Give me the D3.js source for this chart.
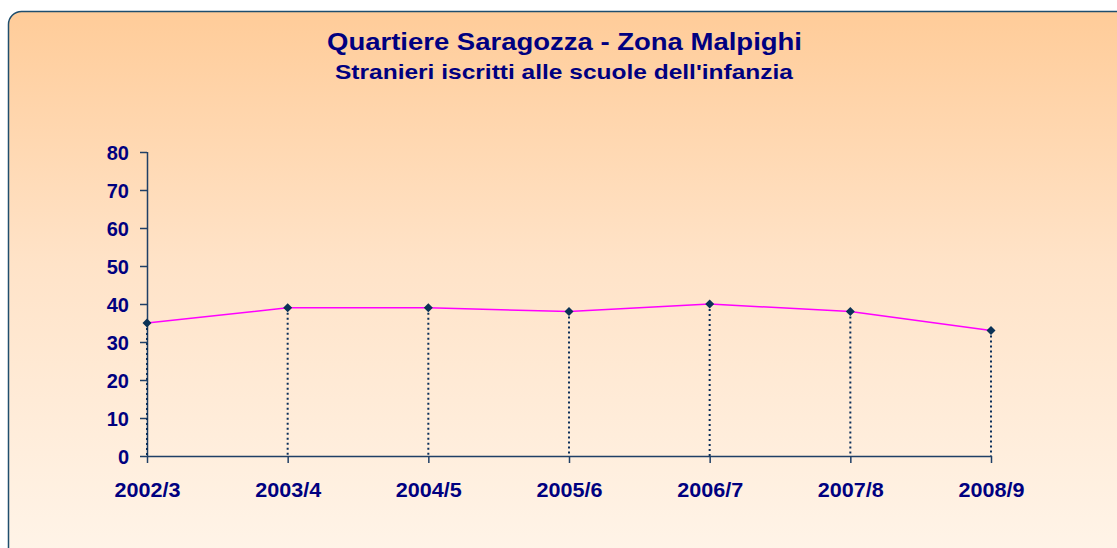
<!DOCTYPE html>
<html><head><meta charset="utf-8">
<script src="https://cdn.jsdelivr.net/npm/d3@7"></script>
<style>html,body{margin:0;padding:0;background:#fff;overflow:hidden}</style>
</head><body>
<svg id="c" width="1117" height="548"></svg>
<script>
const categories = ["2002/3","2003/4","2004/5","2005/6","2006/7","2007/8","2008/9"];
const values = [35, 39, 39, 38, 40, 38, 33];
const yTicks = [0,10,20,30,40,50,60,70,80];
const title = "Quartiere Saragozza - Zona Malpighi";
const subtitle = "Stranieri iscritti alle scuole dell'infanzia";

const svg = d3.select("#c");
const defs = svg.append("defs");
const g = defs.append("linearGradient").attr("id","bg").attr("x1",0).attr("y1",0).attr("x2",0).attr("y2",1);
g.append("stop").attr("offset","0%").attr("stop-color","#FFCC99");
g.append("stop").attr("offset","45%").attr("stop-color","#FFE3C8");
g.append("stop").attr("offset","100%").attr("stop-color","#FFF5EA");

svg.append("rect").attr("x",8.5).attr("y",11.5).attr("width",1130).attr("height",560)
  .attr("rx",13).attr("fill","url(#bg)").attr("stroke","#1F4E6E").attr("stroke-width",1.5);

const font = "'Liberation Sans', Arial, sans-serif";
svg.append("text").attr("x",564.5).attr("y",49.5).attr("text-anchor","middle")
  .attr("font-family",font).attr("font-weight","bold").attr("font-size",24.5).attr("fill","#000080")
  .attr("textLength",475).attr("lengthAdjust","spacingAndGlyphs").text(title);
svg.append("text").attr("x",564).attr("y",79).attr("text-anchor","middle")
  .attr("font-family",font).attr("font-weight","bold").attr("font-size",20.5).attr("fill","#000080")
  .attr("textLength",458).attr("lengthAdjust","spacingAndGlyphs").text(subtitle);

const x = d3.scalePoint().domain(categories).range([147, 991]);
const y = d3.scaleLinear().domain([0,80]).range([456,152]);

const axisColor = "#1F3F66";
const ya = svg.append("g").attr("transform","translate(147,0)")
  .call(d3.axisLeft(y).tickValues(yTicks).tickSize(7).tickPadding(11));
const xa = svg.append("g").attr("transform","translate(0,456)")
  .call(d3.axisBottom(x).tickSize(7).tickPadding(20));
[ya, xa].forEach(a => {
  a.select(".domain").attr("stroke",axisColor).attr("stroke-width",1.5);
  a.selectAll(".tick line").attr("stroke",axisColor).attr("stroke-width",1.5);
  a.selectAll("text").attr("font-family",font).attr("font-weight","bold").attr("font-size",20).attr("fill","#000080");
});
ya.select(".domain").attr("d","M0.5,152V456.5");
xa.select(".domain").attr("d","M147,0.5H991");
ya.selectAll(".tick text").attr("dy","0.36em");
xa.selectAll(".tick text").attr("dy","0.71em").attr("textLength",66).attr("lengthAdjust","spacingAndGlyphs");

// drop lines
svg.append("g").selectAll("line").data(categories).join("line")
  .attr("x1",d=>x(d)).attr("x2",d=>x(d))
  .attr("y1",(d,i)=>y(values[i])).attr("y2",y(0))
  .attr("stroke","#0B2F5A").attr("stroke-width",2).attr("stroke-dasharray","2,3");

svg.append("path").datum(values)
  .attr("d", d3.line().x((d,i)=>x(categories[i])).y(d=>y(d)))
  .attr("fill","none").attr("stroke","#FF00FF").attr("stroke-width",1.5);

svg.append("g").selectAll("path").data(values).join("path")
  .attr("transform",(d,i)=>`translate(${x(categories[i])},${y(d)})`)
  .attr("d","M0,-4.5L4.5,0L0,4.5L-4.5,0Z").attr("fill","#0B3256");
</script>
</body></html>
